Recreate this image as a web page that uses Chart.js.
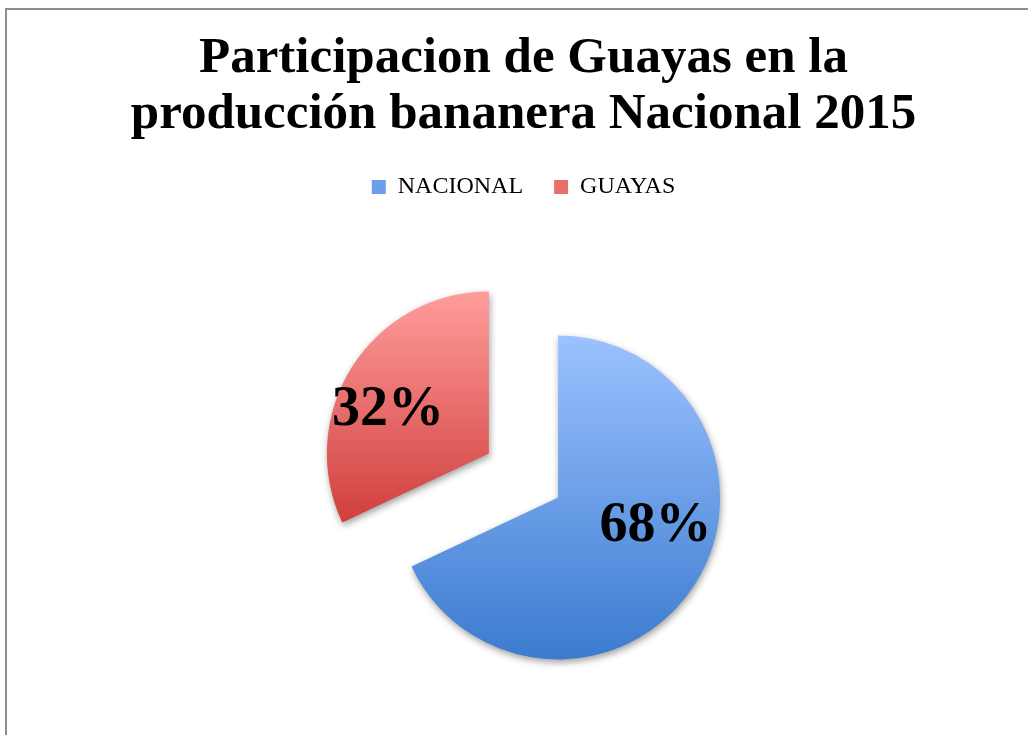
<!DOCTYPE html>
<html>
<head>
<meta charset="utf-8">
<script src="https://cdn.jsdelivr.net/npm/chart.js@4.4.1/dist/chart.umd.min.js"></script>
<style>
  html, body { margin: 0; padding: 0; background: #fff; overflow: hidden; }
  #frame { position: absolute; left: 5px; top: 8px; width: 1100px; height: 800px; border: 2px solid #8e8e8e; }
  #wrap { position: absolute; left: 0; top: 0; width: 1028px; height: 760px; }
</style>
</head>
<body>
<div id="frame"></div>
<div id="wrap"><canvas id="pieChart" width="1028" height="760"></canvas></div>
<script>
/* Participacion de Guayas - produccion bananera 2015 */
var categories = ['NACIONAL', 'GUAYAS'];
var shares = [68, 32];
var titleLines = ['Participacion de Guayas en la', 'producción bananera Nacional 2015'];

// light (top) -> dark (bottom) for each slice
var topColors = ['#9cc2ff', '#ff9d9b'];
var bottomColors = ['#3b7bcf', '#d03f3d'];
var legendColors = ['#6d9fe8', '#ea6e6c'];

function midAngle(arc) {
    return (arc.startAngle + arc.endAngle) / 2;
}

// vertical extent of a slice (before it is pulled out), used to stretch its gradient
function sliceBounds(arc) {
    var ys = [arc.y];
    var steps = 40;
    for (var i = 0; i <= steps; i++) {
        var a = arc.startAngle + (arc.endAngle - arc.startAngle) * i / steps;
        ys.push(arc.y + Math.sin(a) * arc.outerRadius);
    }
    return [Math.min.apply(null, ys), Math.max.apply(null, ys)];
}

// exploded slices: every arc is moved out along its mid angle
// (the built-in offset also grows the radius, so the arcs are drawn here instead)
var pieDecor = {
    id: 'pieDecor',
    beforeDatasetDraw: function(chart, args, opts) {
        var ctx = chart.ctx;
        args.meta.data.forEach(function(arc, i) {
            var b = sliceBounds(arc);
            var g = ctx.createLinearGradient(0, b[0], 0, b[1]);
            g.addColorStop(0, topColors[i]);
            g.addColorStop(1, bottomColors[i]);
            arc.options.backgroundColor = g;

            var mid = midAngle(arc);
            ctx.save();
            ctx.translate(Math.cos(mid) * opts.explode, Math.sin(mid) * opts.explode);
            ctx.shadowColor = 'rgba(0,0,0,0.38)';
            ctx.shadowBlur = 7;
            ctx.shadowOffsetX = 1;
            ctx.shadowOffsetY = 3;
            arc.draw(ctx);
            ctx.restore();
        });
        return false;
    },
    afterDatasetsDraw: function(chart, args, opts) {
        var ctx = chart.ctx;
        var arcs = chart.getDatasetMeta(0).data;
        var data = chart.data.datasets[0].data;
        var total = data.reduce(function(s, v) { return s + v; }, 0);
        var size = 56;
        ctx.save();
        ctx.font = 'bold ' + size + 'px "Liberation Serif", serif';
        ctx.fillStyle = '#000';
        ctx.textAlign = 'center';
        ctx.textBaseline = 'alphabetic';
        arcs.forEach(function(arc, i) {
            var p = opts.placement[i];
            var mid = midAngle(arc);
            var cx = arc.x + Math.cos(mid) * opts.explode;
            var cy = arc.y + Math.sin(mid) * opts.explode;
            var a = mid + p.turn * Math.PI / 180;
            var r = arc.outerRadius * p.dist;
            var txt = Math.round(data[i] / total * 100) + '%';
            // centre the digits (not the em box) on the anchor point
            ctx.fillText(txt, cx + Math.cos(a) * r, cy + Math.sin(a) * r + size * 0.34);
        });
        ctx.restore();
    }
};

var ctx = document.getElementById('pieChart').getContext('2d');
var myChart = new Chart(ctx, {
    type: 'pie',
    data: {
        labels: categories,
        datasets: [{
            data: shares,
            backgroundColor: legendColors,
            borderWidth: 0
        }]
    },
    options: {
        responsive: false,
        animation: false,
        radius: 162,
        layout: { padding: { left: 19, top: 0, bottom: 18 } },
        plugins: {
            title: {
                display: true,
                text: titleLines,
                color: '#000',
                font: { family: '"Liberation Serif", serif', size: 51, weight: 'bold', lineHeight: 1.098 },
                padding: { top: 31, bottom: 1 }
            },
            legend: {
                position: 'top',
                labels: {
                    color: '#000',
                    boxWidth: 14,
                    boxHeight: 14,
                    padding: 31,
                    font: { family: '"Liberation Serif", serif', size: 24, lineHeight: 0.77 }
                }
            },
            tooltip: { enabled: false },
            pieDecor: {
                explode: 41,
                placement: [{ turn: -18, dist: 0.62 }, { turn: -7, dist: 0.69 }]
            }
        }
    },
    plugins: [pieDecor]
});
</script>
</body>
</html>
